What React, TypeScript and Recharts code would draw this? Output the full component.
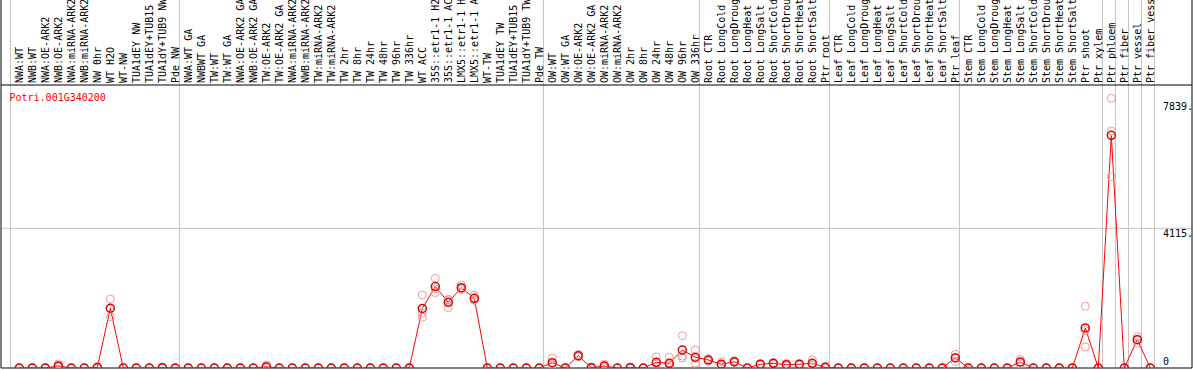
import { LineChart, Line, XAxis, YAxis, ReferenceLine } from "recharts"

const geneId = "Potri.001G340200"

const labels = [
  "NWA:WT", "NWB:WT", "NWA:OE-ARK2", "NWB:OE-ARK2", "NWA:miRNA-ARK2", "NWB:miRNA-ARK2",
  "NW 0hr", "WT H2O", "WT-NW", "TUA1dEY NW", "TUA1dEY+TUB15", "TUA1dY+TUB9 NW", "Pde NW",
  "NWA:WT GA", "NWBWT GA", "TW:WT", "TW:WT GA", "NWA:OE-ARK2 GA", "NWB:OE-ARK2 GA",
  "TW:OE-ARK2", "TW:OE-ARK2 GA", "NWA:miRNA-ARK2", "NWB:miRNA-ARK2", "TW:miRNA-ARK2",
  "TW:miRNA-ARK2", "TW 2hr", "TW 8hr", "TW 24hr", "TW 48hr", "TW 96hr", "TW 336hr",
  "WT ACC", "35S::etr1-1 H2", "35S::etr1-1 AC", "LMX5::etr1-1 H", "LMX5::etr1-1 A",
  "WT-TW", "TUA1dEY TW", "TUA1dEY+TUB15", "TUA1dY+TUB9 TW", "Pde TW",
  "OW:WT", "OW:WT GA", "OW:OE-ARK2", "OW:OE-ARK2 GA", "OW:miRNA-ARK2", "OW:miRNA-ARK2",
  "OW 2hr", "OW 8hr", "OW 24hr", "OW 48hr", "OW 96hr", "OW 336hr",
  "Root CTR", "Root LongCold", "Root LongDroug", "Root LongHeat", "Root LongSalt",
  "Root ShortCold", "Root ShortDrou", "Root ShortHeat", "Root ShortSalt", "Ptr root",
  "Leaf CTR", "Leaf LongCold", "Leaf LongDroug", "Leaf LongHeat", "Leaf LongSalt",
  "Leaf ShortCold", "Leaf ShortDrou", "Leaf ShortHeat", "Leaf ShortSalt", "Ptr leaf",
  "Stem CTR", "Stem LongCold", "Stem LongDroug", "Stem LongHeat", "Stem LongSalt",
  "Stem ShortCold", "Stem ShortDrou", "Stem ShortHeat", "Stem ShortSalt",
  "Ptr shoot", "Ptr xylem", "Ptr phloem", "Ptr fiber", "Ptr vessel", "Ptr fiber vess",
]

// mean expression per sample
const means = [
  0, 0, 0, 60, 0, 0, 15, 1760, 0, 0,
  0, 10, 0, 0, 0, 0, 0, 0, 0, 35,
  0, 0, 0, 0, 0, 0, 0, 0, 0, 0,
  0, 1755, 2397, 1935, 2366, 2053, 0, 0, 0, 0,
  0, 157, 0, 363, 10, 58, 0, 10, 0, 167,
  138, 530, 317, 236, 109, 185, 0, 109, 138, 98,
  109, 138, 20, 0, 0, 0, 0, 0, 0, 0,
  0, 0, 298, 0, 0, 0, 0, 178, 0, 0,
  0, 0, 1179, 0, 6853, 0, 834, 0,
]

// replicates
const rep1 = [
  0, 0, 0, 120, 0, 0, 45, 2030, 0, 0,
  0, 30, 0, 0, 0, 0, 0, 0, 0, 90,
  0, 0, 0, 0, 0, 0, 0, 0, 0, 0,
  0, 2150, 2640, 2020, 2445, 2150, 0, 0, 0, 0,
  0, 295, 0, 400, 30, 110, 0, 30, 0, 330,
  315, 950, 530, 275, 177, 210, 0, 130, 160, 138,
  130, 236, 40, 0, 0, 0, 0, 0, 0, 0,
  0, 0, 403, 0, 0, 0, 0, 255, 0, 0,
  0, 0, 1817, 0, 7944, 0, 922, 0,
]
const rep2 = [
  0, 0, 0, 40, 0, 0, 0, 1740, 0, 0,
  0, 0, 0, 0, 0, 0, 0, 0, 0, 10,
  0, 0, 0, 0, 0, 0, 0, 0, 0, 0,
  0, 1620, 2330, 2010, 2336, 2010, 0, 0, 0, 0,
  0, 117, 0, 360, 0, 55, 0, 0, 0, 150,
  90, 350, 280, 236, 80, 186, 0, 109, 138, 98,
  109, 100, 20, 0, 0, 0, 0, 0, 0, 0,
  0, 0, 304, 0, 0, 0, 0, 160, 0, 0,
  0, 0, 1100, 0, 6981, 0, 850, 0,
]
const rep3 = [
  0, 0, 0, 20, 0, 0, 0, 1510, 0, 0,
  0, 0, 0, 0, 0, 0, 0, 0, 0, 5,
  0, 0, 0, 0, 0, 0, 0, 0, 0, 0,
  0, 1495, 2220, 1775, 2316, 2000, 0, 0, 0, 0,
  0, 59, 0, 330, 0, 10, 0, 0, 0, 20,
  10, 290, 140, 196, 70, 160, 0, 88, 115, 59,
  88, 78, 0, 0, 0, 0, 0, 0, 0, 0,
  0, 0, 187, 0, 0, 0, 0, 118, 0, 0,
  0, 0, 620, 0, 5635, 0, 730, 0,
]

// first sample of each block (last entry closes the final block)
const groupStarts = [0, 13, 41, 53, 63, 73, 84, 85, 86, 87, 88]

const yTicks = [0, 4115, 7839]
const yTickLabels = ["0", "4115.", "7839."]

const MONO = '"DejaVu Sans Mono", "Liberation Mono", monospace'
const GRID = "#c4c4c4"
const X_MIN = -1.408
const X_MAX = 90.208
const Y_MAX = 8336
const Y_TOP = 10840

const data = labels.map((label, i) => ({
  idx: i,
  label,
  mean: means[i],
  r1: rep1[i],
  r2: rep2[i],
  r3: rep3[i],
}))

function SampleTick(props: any) {
  const { x, payload } = props
  return (
    <text
      transform={`translate(${x + 3.5},83) rotate(-90)`}
      fontFamily={MONO}
      fontSize={10}
      fill="#000"
    >
      {labels[payload.value]}
    </text>
  )
}

function ValueLabel(props: any) {
  const { viewBox, text, zero } = props
  const y = viewBox?.y ?? 0
  return (
    <text x={1163} y={y + (zero ? -3 : 8.5)} fontFamily={MONO} fontSize={10} fill="#000">
      {text}
    </text>
  )
}

const repDot = { r: 4, stroke: "#f09a9a", strokeWidth: 1, fill: "none" }

export default function App() {
  return (
    <div style={{ position: "relative", width: 1194, height: 370, background: "#fff" }}>
      <style>{"body{margin:0}"}</style>
      <LineChart width={1194} height={370} data={data} margin={{ top: 0, right: 2, left: 1, bottom: 2 }}>
        <XAxis
          dataKey="idx"
          type="number"
          orientation="top"
          height={85}
          domain={[X_MIN, X_MAX]}
          allowDataOverflow
          ticks={labels.map((_, i) => i)}
          interval={0}
          tick={<SampleTick />}
          tickLine={false}
          axisLine={{ stroke: "#000" }}
        />
        <YAxis orientation="right" width={0} domain={[0, Y_MAX]} allowDataOverflow hide />
        {groupStarts.map((k) => (
          <ReferenceLine
            key={k}
            ifOverflow="visible"
            segment={[{ x: k - 0.68, y: 0 }, { x: k - 0.68, y: Y_TOP }]}
            stroke={GRID}
          />
        ))}
        <ReferenceLine y={4115} stroke={GRID} />
        <ReferenceLine ifOverflow="visible" segment={[{ x: X_MIN, y: 0 }, { x: X_MIN, y: Y_TOP }]} stroke="#000" />
        <ReferenceLine ifOverflow="visible" segment={[{ x: X_MAX, y: 0 }, { x: X_MAX, y: Y_TOP }]} stroke="#000" />
        <ReferenceLine y={0} stroke="#000" />
        {yTicks.map((v, i) => (
          <ReferenceLine
            key={`t${v}`}
            y={v}
            stroke="none"
            ifOverflow="visible"
            label={<ValueLabel text={yTickLabels[i]} zero={v === 0} />}
          />
        ))}
        <Line dataKey="r1" stroke="none" dot={repDot} activeDot={false} isAnimationActive={false} />
        <Line dataKey="r2" stroke="none" dot={repDot} activeDot={false} isAnimationActive={false} />
        <Line dataKey="r3" stroke="none" dot={repDot} activeDot={false} isAnimationActive={false} />
        <Line
          dataKey="mean"
          type="linear"
          stroke="#ff0000"
          strokeWidth={1}
          dot={{ r: 4, stroke: "#e00000", strokeWidth: 1.5, fill: "none" }}
          activeDot={false}
          isAnimationActive={false}
        />
      </LineChart>
      <svg width={1194} height={370} style={{ position: "absolute", left: 0, top: 0, pointerEvents: "none" }}>
        <text x={9.5} y={101} fontFamily={MONO} fontSize={10} fill="#ff0000">
          {geneId}
        </text>
      </svg>
    </div>
  )
}
